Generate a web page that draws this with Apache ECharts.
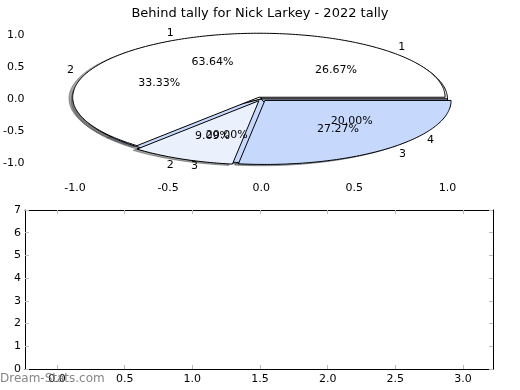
<!DOCTYPE html>
<html><head><meta charset="utf-8">
<script src="https://cdn.jsdelivr.net/npm/echarts@6/dist/echarts.min.js"></script>
<style>html,body{margin:0;padding:0;background:#fff}#c{width:520px;height:390px}</style>
</head><body><div id="c"></div>
<script>
const titleText = 'Behind tally for Nick Larkey - 2022 tally';
const pieALabels = ['1', '2', '3'];
const pieAShares = [63.64, 9.09, 27.27];
const pieBLabels = ['1', '2', '3', '4'];
const pieBShares = [26.67, 33.33, 20.00, 20.00];
const pieTicks = [-1.0, -0.5, 0.0, 0.5, 1.0];
const lowerXTicks = [0.0, 0.5, 1.0, 1.5, 2.0, 2.5, 3.0];
const lowerYTicks = [0, 1, 2, 3, 4, 5, 6, 7];

// styles (not data)
const colorsA = ['#ffffff', '#eaf1fd', '#c6d9fc'];
const colorsB = ['#ffffff', '#ffffff', '#c6d9fc', '#c6d9fc'];
const explodeA = [0.03, 0.03, 0.03];
const explodeB = [0, 0, 0, 0];
const FONT = 'DejaVu Sans';

function buildSlices(labels, shares, colors, explode) {
  const total = shares.reduce((a, b) => a + b, 0);
  let start = 0;
  return shares.map((v, i) => {
    const t1 = start, t2 = start + 360 * v / total;
    start = t2;
    const mid = (t1 + t2) / 2 * Math.PI / 180;
    return { label: labels[i], pct: v.toFixed(2) + '%', t1, t2, mid, color: colors[i], ex: explode[i] };
  });
}
const slicesA = buildSlices(pieALabels, pieAShares, colorsA, explodeA);
const slicesB = buildSlices(pieBLabels, pieBShares, colorsB, explodeB);

const elements = [];
slicesA.forEach(s => elements.push({ kind: 'shadow', s }));
slicesB.forEach(s => elements.push({ kind: 'shadow', s }));
slicesB.forEach(s => elements.push({ kind: 'wedge', s }));
slicesA.forEach(s => elements.push({ kind: 'wedge', s }));
slicesA.forEach(s => elements.push({ kind: 'label', s }));
slicesB.forEach(s => elements.push({ kind: 'label', s }));

function shade(hex) {
  const r = parseInt(hex.slice(1, 3), 16), g = parseInt(hex.slice(3, 5), 16), b = parseInt(hex.slice(5, 7), 16);
  return 'rgba(' + Math.round(r * 0.3) + ',' + Math.round(g * 0.3) + ',' + Math.round(b * 0.3) + ',0.5)';
}

function renderItem(params, api) {
  const e = elements[params.dataIndex];
  const s = e.s;
  const cx = s.ex * Math.cos(s.mid), cy = s.ex * Math.sin(s.mid);
  if (e.kind === 'label') {
    const lx = cx + 1.1 * Math.cos(s.mid), ly = cy + 1.1 * Math.sin(s.mid);
    const px = cx + 0.6 * Math.cos(s.mid), py = cy + 0.6 * Math.sin(s.mid);
    const p1 = api.coord([lx, ly]), p2 = api.coord([px, py]);
    return {
      type: 'group', children: [
        { type: 'text', x: p1[0], y: p1[1], style: { text: s.label, fill: '#000', font: '11px "' + FONT + '"', align: lx > 0 ? 'left' : 'right', verticalAlign: 'middle' } },
        { type: 'text', x: p2[0], y: p2[1], style: { text: s.pct, fill: '#000', font: '11px "' + FONT + '"', align: 'center', verticalAlign: 'middle' } }
      ]
    };
  }
  const off = e.kind === 'shadow' ? -0.02 : 0;
  const pts = [api.coord([cx + off, cy + off])];
  const n = Math.max(2, Math.ceil((s.t2 - s.t1) / 1));
  for (let k = 0; k <= n; k++) {
    const a = (s.t1 + (s.t2 - s.t1) * k / n) * Math.PI / 180;
    pts.push(api.coord([cx + off + Math.cos(a), cy + off + Math.sin(a)]));
  }
  if (e.kind === 'shadow') {
    return { type: 'polygon', shape: { points: pts }, style: { fill: shade(s.color), stroke: shade(s.color), lineWidth: 1 } };
  }
  return { type: 'polygon', shape: { points: pts }, style: { fill: s.color, stroke: '#000', lineWidth: 1, lineJoin: 'miter' } };
}

const tickStyle = { show: true, inside: true, length: 4, lineStyle: { color: '#bbbbbb', width: 1 } };
const labelStyle = { color: '#000', fontSize: 11, fontFamily: FONT };

const chart = echarts.init(document.getElementById('c'), null, { renderer: 'canvas' });
chart.setOption({
  animation: false,
  backgroundColor: '#fff',
  title: { text: titleText, left: 'center', top: 2, textStyle: { fontSize: 13, fontWeight: 'normal', color: '#000', fontFamily: FONT } },
  grid: [
    { left: 26, right: 26, top: 19, height: 160 },
    { left: 25, right: 27, top: 210, bottom: 21 }
  ],
  xAxis: [
    { gridIndex: 0, type: 'value', position: 'bottom', min: -1.25, max: 1.25, axisLine: { show: false },
      axisTick: Object.assign({ customValues: pieTicks }, tickStyle),
      axisLabel: Object.assign({ customValues: pieTicks, margin: 4, formatter: v => v.toFixed(1) }, labelStyle), splitLine: { show: false } },
    { gridIndex: 0, type: 'value', position: 'top', min: -1.25, max: 1.25, axisLine: { show: false },
      axisTick: Object.assign({ customValues: pieTicks }, tickStyle), axisLabel: { show: false }, splitLine: { show: false } },
    { gridIndex: 1, type: 'value', position: 'bottom', min: -0.2365, max: 3.2215,
      axisLine: { show: true, onZero: false, lineStyle: { color: '#000', width: 1 } },
      axisTick: Object.assign({ customValues: lowerXTicks }, tickStyle),
      axisLabel: Object.assign({ customValues: lowerXTicks, margin: 5, formatter: v => v.toFixed(1) }, labelStyle), splitLine: { show: false } },
    { gridIndex: 1, type: 'value', position: 'top', min: -0.2365, max: 3.2215,
      axisLine: { show: true, onZero: false, lineStyle: { color: '#000', width: 1 } },
      axisTick: Object.assign({ customValues: lowerXTicks }, tickStyle), axisLabel: { show: false }, splitLine: { show: false } }
  ],
  yAxis: [
    { gridIndex: 0, type: 'value', position: 'left', min: -1.25, max: 1.25, axisLine: { show: false },
      axisTick: Object.assign({ customValues: pieTicks }, tickStyle),
      axisLabel: Object.assign({ customValues: pieTicks, margin: 4, formatter: v => v.toFixed(1) }, labelStyle), splitLine: { show: false } },
    { gridIndex: 0, type: 'value', position: 'right', min: -1.25, max: 1.25, axisLine: { show: false },
      axisTick: Object.assign({ customValues: pieTicks }, tickStyle), axisLabel: { show: false }, splitLine: { show: false } },
    { gridIndex: 1, type: 'value', position: 'left', min: 0, max: 7,
      axisLine: { show: true, onZero: false, lineStyle: { color: '#000', width: 1 } },
      axisTick: Object.assign({ customValues: lowerYTicks }, tickStyle),
      axisLabel: Object.assign({ customValues: lowerYTicks, margin: 4 }, labelStyle), splitLine: { show: false } },
    { gridIndex: 1, type: 'value', position: 'right', min: 0, max: 7,
      axisLine: { show: true, onZero: false, lineStyle: { color: '#000', width: 1 } },
      axisTick: Object.assign({ customValues: lowerYTicks }, tickStyle), axisLabel: { show: false }, splitLine: { show: false } }
  ],
  series: [{
    type: 'custom', xAxisIndex: 0, yAxisIndex: 0, clip: false,
    renderItem: renderItem,
    data: elements.map((e, i) => [0, 0, i])
  }],
  graphic: [{
    type: 'text', left: 0, top: 373, z: 100,
    style: { text: 'Dream-Stats.com', fill: 'rgba(120,120,120,0.9)', font: '12px "' + FONT + '"' }
  }]
});
</script></body></html>
